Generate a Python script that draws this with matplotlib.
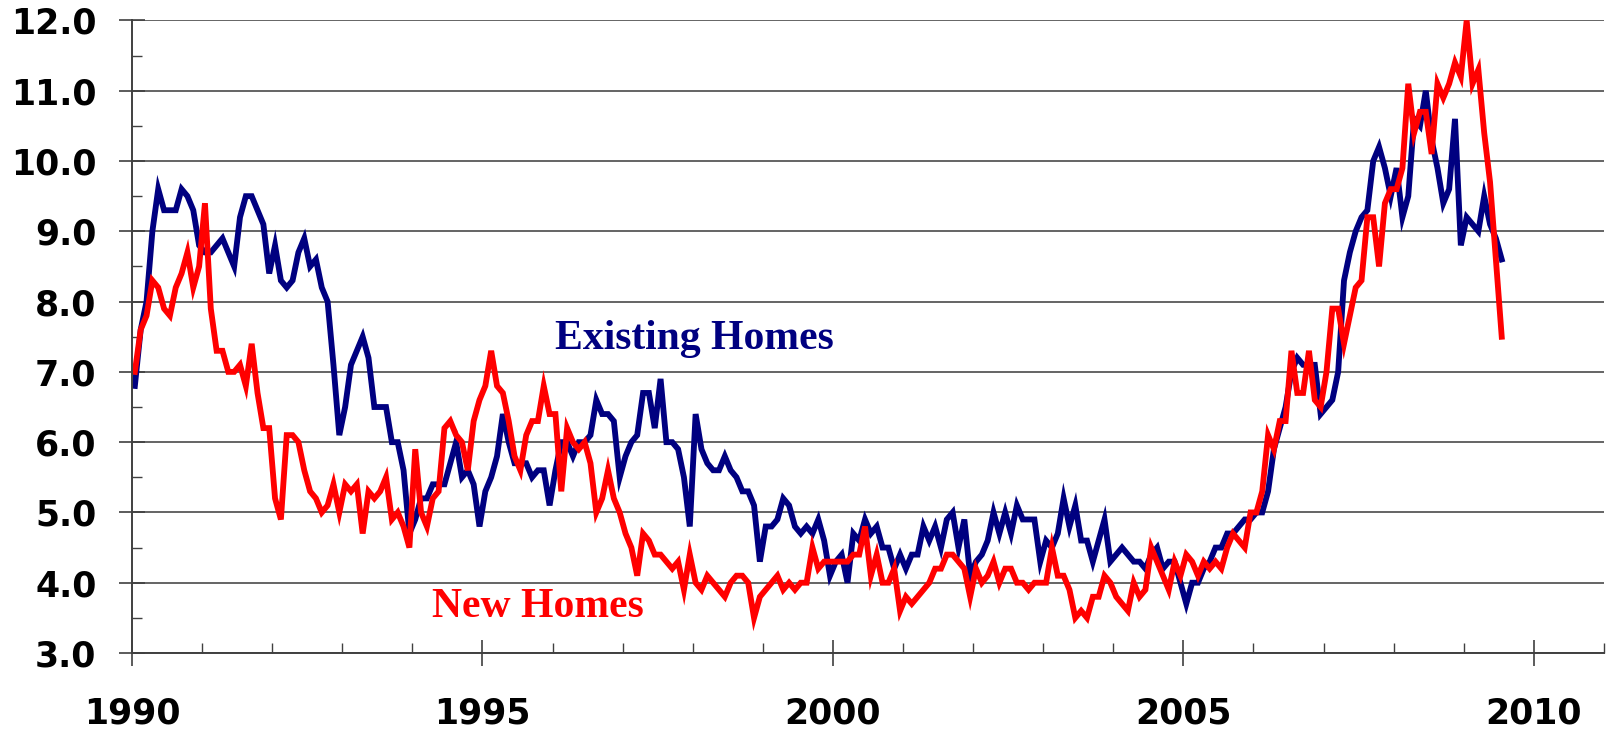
import numpy as np
import matplotlib.pyplot as plt
from matplotlib.ticker import MultipleLocator, FormatStrFormatter

# months' supply, monthly Jan 1990 - Jul 2009
existing = [
    6.8, 7.6, 8.0, 9.0, 9.6, 9.3, 9.3, 9.3, 9.6, 9.5, 9.3, 8.8,   # 1990
    8.7, 8.7, 8.8, 8.9, 8.7, 8.5, 9.2, 9.5, 9.5, 9.3, 9.1, 8.4,   # 1991
    8.8, 8.3, 8.2, 8.3, 8.7, 8.9, 8.5, 8.6, 8.2, 8.0, 7.1, 6.1,   # 1992
    6.5, 7.1, 7.3, 7.5, 7.2, 6.5, 6.5, 6.5, 6.0, 6.0, 5.6, 4.7,   # 1993
    4.9, 5.2, 5.2, 5.4, 5.4, 5.4, 5.7, 6.0, 5.5, 5.6, 5.4, 4.8,   # 1994
    5.3, 5.5, 5.8, 6.4, 6.0, 5.7, 5.7, 5.7, 5.5, 5.6, 5.6, 5.1,   # 1995
    5.6, 6.0, 6.0, 5.8, 6.0, 6.0, 6.1, 6.6, 6.4, 6.4, 6.3, 5.5,   # 1996
    5.8, 6.0, 6.1, 6.7, 6.7, 6.2, 6.9, 6.0, 6.0, 5.9, 5.5, 4.8,   # 1997
    6.4, 5.9, 5.7, 5.6, 5.6, 5.8, 5.6, 5.5, 5.3, 5.3, 5.1, 4.3,   # 1998
    4.8, 4.8, 4.9, 5.2, 5.1, 4.8, 4.7, 4.8, 4.7, 4.9, 4.6, 4.1,   # 1999
    4.3, 4.4, 4.0, 4.7, 4.6, 4.9, 4.7, 4.8, 4.5, 4.5, 4.2, 4.4,   # 2000
    4.2, 4.4, 4.4, 4.8, 4.6, 4.8, 4.5, 4.9, 5.0, 4.5, 4.9, 4.1,   # 2001
    4.3, 4.4, 4.6, 5.0, 4.7, 5.0, 4.7, 5.1, 4.9, 4.9, 4.9, 4.3,   # 2002
    4.6, 4.5, 4.7, 5.2, 4.8, 5.1, 4.6, 4.6, 4.3, 4.6, 4.9, 4.3,   # 2003
    4.4, 4.5, 4.4, 4.3, 4.3, 4.2, 4.4, 4.5, 4.2, 4.3, 4.3, 4.0,   # 2004
    3.7, 4.0, 4.0, 4.2, 4.3, 4.5, 4.5, 4.7, 4.7, 4.8, 4.9, 4.9,   # 2005
    5.0, 5.0, 5.3, 5.9, 6.2, 6.5, 7.0, 7.2, 7.1, 7.1, 7.1, 6.4,   # 2006
    6.5, 6.6, 7.0, 8.3, 8.7, 9.0, 9.2, 9.3, 10.0, 10.2, 9.9, 9.5,  # 2007
    9.9, 9.2, 9.5, 10.6, 10.5, 11.0, 10.3, 9.9, 9.4, 9.6, 10.6, 8.8,  # 2008
    9.2, 9.1, 9.0, 9.5, 9.1, 8.9, 8.6,                            # 2009
]

new = [
    7.0, 7.6, 7.8, 8.3, 8.2, 7.9, 7.8, 8.2, 8.4, 8.7, 8.2, 8.5,   # 1990
    9.4, 7.9, 7.3, 7.3, 7.0, 7.0, 7.1, 6.8, 7.4, 6.7, 6.2, 6.2,   # 1991
    5.2, 4.9, 6.1, 6.1, 6.0, 5.6, 5.3, 5.2, 5.0, 5.1, 5.4, 5.0,   # 1992
    5.4, 5.3, 5.4, 4.7, 5.3, 5.2, 5.3, 5.5, 4.9, 5.0, 4.8, 4.5,   # 1993
    5.9, 5.0, 4.8, 5.2, 5.3, 6.2, 6.3, 6.1, 6.0, 5.6, 6.3, 6.6,   # 1994
    6.8, 7.3, 6.8, 6.7, 6.3, 5.8, 5.6, 6.1, 6.3, 6.3, 6.8, 6.4,   # 1995
    6.4, 5.3, 6.2, 6.0, 5.9, 6.0, 5.7, 5.0, 5.2, 5.6, 5.2, 5.0,   # 1996
    4.7, 4.5, 4.1, 4.7, 4.6, 4.4, 4.4, 4.3, 4.2, 4.3, 3.9, 4.4,   # 1997
    4.0, 3.9, 4.1, 4.0, 3.9, 3.8, 4.0, 4.1, 4.1, 4.0, 3.5, 3.8,   # 1998
    3.9, 4.0, 4.1, 3.9, 4.0, 3.9, 4.0, 4.0, 4.5, 4.2, 4.3, 4.3,   # 1999
    4.3, 4.3, 4.3, 4.4, 4.4, 4.8, 4.1, 4.4, 4.0, 4.0, 4.2, 3.6,   # 2000
    3.8, 3.7, 3.8, 3.9, 4.0, 4.2, 4.2, 4.4, 4.4, 4.3, 4.2, 3.8,   # 2001
    4.2, 4.0, 4.1, 4.3, 4.0, 4.2, 4.2, 4.0, 4.0, 3.9, 4.0, 4.0,   # 2002
    4.0, 4.5, 4.1, 4.1, 3.9, 3.5, 3.6, 3.5, 3.8, 3.8, 4.1, 4.0,   # 2003
    3.8, 3.7, 3.6, 4.0, 3.8, 3.9, 4.5, 4.3, 4.1, 3.9, 4.3, 4.1,   # 2004
    4.4, 4.3, 4.1, 4.3, 4.2, 4.3, 4.2, 4.5, 4.7, 4.6, 4.5, 5.0,   # 2005
    5.0, 5.3, 6.1, 5.9, 6.3, 6.3, 7.3, 6.7, 6.7, 7.3, 6.6, 6.5,   # 2006
    7.0, 7.9, 7.9, 7.4, 7.8, 8.2, 8.3, 9.2, 9.2, 8.5, 9.4, 9.6,   # 2007
    9.6, 9.9, 11.1, 10.4, 10.7, 10.7, 10.1, 11.1, 10.9, 11.1, 11.4, 11.2,  # 2008
    12.0, 11.1, 11.3, 10.4, 9.7, 8.6, 7.5,                        # 2009
]

year_ticks = [1990, 1995, 2000, 2005, 2010]

# mid-month positions
x = 1990 + (np.arange(len(existing)) + 0.5) / 12

fig = plt.figure(figsize=(16.07, 7.31), dpi=100)
ax = fig.add_axes([0.0821, 0.1067, 0.916, 0.8653])

ax.plot(x, existing, color="#000080", lw=4.2, solid_joinstyle="miter")
ax.plot(x, new, color="#ff0000", lw=4.2, solid_joinstyle="miter")

ax.set_xlim(1990, 2011)
ax.set_ylim(3, 12)
ax.set_xticks(year_ticks)
ax.xaxis.set_minor_locator(MultipleLocator(1))
ax.yaxis.set_major_locator(MultipleLocator(1))
ax.yaxis.set_minor_locator(MultipleLocator(0.5))
ax.yaxis.set_major_formatter(FormatStrFormatter("%.1f"))

ax.grid(axis="y", which="major", color="#3a3a3a", lw=1.1)
for s in ["top", "right"]:
    ax.spines[s].set_visible(False)
for s in ["left", "bottom"]:
    ax.spines[s].set_color("#404040")
    ax.spines[s].set_linewidth(1.4)

ax.tick_params(which="major", direction="inout", length=19, width=1.2, color="#404040")
ax.tick_params(which="minor", direction="in", length=7, width=1.0, color="#404040")
ax.tick_params(axis="y", which="major", pad=16)
ax.tick_params(axis="x", which="major", pad=22)
for lab in ax.get_yticklabels():
    lab.set_fontsize(25); lab.set_fontweight("bold")
for lab in ax.get_xticklabels():
    lab.set_fontsize(25); lab.set_fontweight("bold")

ax.text(1998.03, 7.47, "Existing Homes", color="#000080", fontsize=30,
        fontweight="bold", family="Liberation Serif", ha="center", va="center")
ax.text(1995.79, 3.65, "New Homes", color="#ff0000", fontsize=30,
        fontweight="bold", family="Liberation Serif", ha="center", va="center")

fig.savefig("out.png", dpi=100)
